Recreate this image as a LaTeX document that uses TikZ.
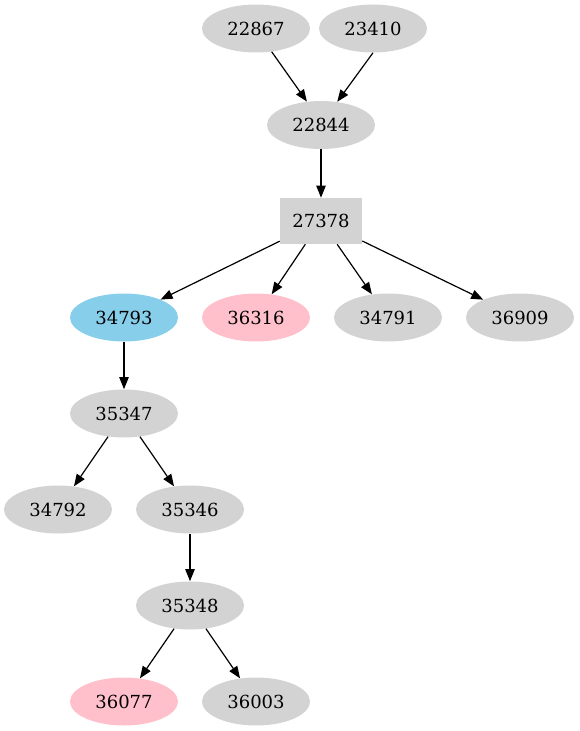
\documentclass[tikz,border=0pt]{standalone}
\usepackage{fontspec}
\setmainfont{DejaVu Serif}
\usetikzlibrary{shapes.geometric,arrows.meta}
\definecolor{lg}{HTML}{D3D3D3}
\definecolor{sky}{HTML}{87CEEB}
\definecolor{pk}{HTML}{FFC0CB}
\tikzset{
  ell/.style={ellipse, fill=lg, draw=none, minimum width=81pt, minimum height=36pt, inner sep=0pt, font=\fontsize{13.5pt}{16pt}\selectfont},
  boxn/.style={rectangle, fill=lg, draw=none, minimum width=61.5pt, minimum height=34.5pt, inner sep=0pt, font=\fontsize{13.5pt}{16pt}\selectfont},
  edge/.style={draw=black, line width=0.9pt, -{Triangle[length=9pt,width=7pt]}}
}
\begin{document}
\begin{tikzpicture}[x=0.75pt,y=-0.75pt]
\useasboundingbox (0,0) rectangle (579,731);
\node[ell] (n22867) at (256,28.5) {22867};
\node[ell] (n23410) at (373,28.5) {23410};
\node[ell] (n22844) at (321,125) {22844};
\node[boxn] (n27378) at (321,221) {27378};
\node[ell, fill=sky] (n34793) at (124,317.5) {34793};
\node[ell, fill=pk] (n36316) at (256,317.5) {36316};
\node[ell] (n34791) at (388,317.5) {34791};
\node[ell] (n36909) at (520,317.5) {36909};
\node[ell] (n35347) at (124,413.5) {35347};
\node[ell] (n34792) at (58,509.5) {34792};
\node[ell] (n35346) at (190,509.5) {35346};
\node[ell] (n35348) at (190,605.5) {35348};
\node[ell, fill=pk] (n36077) at (124,701.5) {36077};
\node[ell] (n36003) at (256,701.5) {36003};
\draw[edge] (n22867.-56) -- (n22844.121);
\draw[edge] (n23410.south) -- (n22844.55);
\draw[edge] (n22844) -- (n27378);
\draw[edge] (n27378) -- (n34793);
\draw[edge] (n27378) -- (n36316);
\draw[edge] (n27378) -- (n34791);
\draw[edge] (n27378) -- (n36909);
\draw[edge] (n34793) -- (n35347);
\draw[edge] (n35347) -- (n34792);
\draw[edge] (n35347) -- (n35346);
\draw[edge] (n35346) -- (n35348);
\draw[edge] (n35348) -- (n36077);
\draw[edge] (n35348) -- (n36003);
\end{tikzpicture}
\end{document}
